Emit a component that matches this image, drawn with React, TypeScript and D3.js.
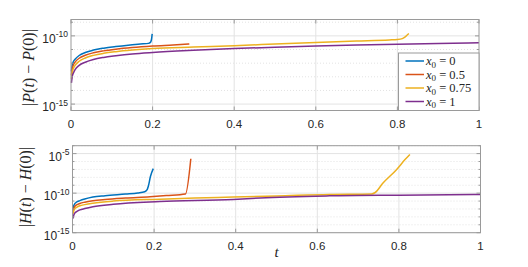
import React from 'react';
import * as d3 from 'd3';

const COLORS = ['#0072BD', '#D95319', '#EDB120', '#7E2F8E'];
const LEGEND_VALUES = ['0', '0.5', '0.75', '1'];
const X_TICKS = [0, 0.2, 0.4, 0.6, 0.8, 1];
const X_TICK_LABELS = ['0', '0.2', '0.4', '0.6', '0.8', '1'];
const P_Y_MAJOR = [-15, -10];
const H_Y_MAJOR = [-15, -10, -5];

// |P(t)-P(0)| : times and log10 values
const tP0 = [0.001, 0.003, 0.006, 0.01, 0.02, 0.035, 0.055, 0.08, 0.11, 0.14, 0.17, 0.19, 0.194, 0.197, 0.199];
const logP0 = [-12.6, -12.15, -11.88, -11.72, -11.44, -11.22, -11.04, -10.9, -10.78, -10.68, -10.6, -10.55, -10.5, -10.3, -9.85];
const tP1 = [0.001, 0.003, 0.006, 0.01, 0.02, 0.035, 0.055, 0.08, 0.11, 0.15, 0.2, 0.25, 0.29];
const logP1 = [-12.9, -12.42, -12.12, -11.92, -11.64, -11.42, -11.24, -11.1, -10.98, -10.86, -10.75, -10.67, -10.6];
const tP2 = [0.001, 0.003, 0.006, 0.01, 0.02, 0.035, 0.055, 0.08, 0.11, 0.15, 0.2, 0.3, 0.4, 0.5, 0.6, 0.7, 0.78, 0.8, 0.812, 0.82, 0.828];
const logP2 = [-13.15, -12.68, -12.38, -12.16, -11.86, -11.62, -11.43, -11.28, -11.16, -11.04, -10.93, -10.82, -10.72, -10.6, -10.48, -10.38, -10.3, -10.27, -10.2, -10.05, -9.83];
const tP3 = [0.001, 0.003, 0.006, 0.01, 0.02, 0.035, 0.055, 0.08, 0.11, 0.15, 0.2, 0.3, 0.4, 0.5, 0.6, 0.7, 0.8, 0.9, 1.0];
const logP3 = [-13.45, -12.98, -12.72, -12.48, -12.16, -11.93, -11.73, -11.58, -11.46, -11.33, -11.22, -11.06, -10.93, -10.83, -10.74, -10.67, -10.61, -10.56, -10.51];

// |H(t)-H(0)|
const tH0 = [0.001, 0.003, 0.006, 0.01, 0.018, 0.03, 0.05, 0.08, 0.13, 0.16, 0.177, 0.183, 0.186, 0.191, 0.198];
const logH0 = [-12.0, -11.6, -11.3, -11.12, -10.95, -10.75, -10.5, -10.33, -10.12, -9.98, -9.82, -9.55, -9.1, -7.9, -6.9];
const tH1 = [0.001, 0.003, 0.006, 0.01, 0.018, 0.03, 0.05, 0.08, 0.13, 0.19, 0.23, 0.277, 0.29];
const logH1 = [-12.3, -11.95, -11.65, -11.48, -11.3, -11.14, -10.96, -10.8, -10.62, -10.45, -10.3, -10.1, -5.65];
const tH2 = [0.001, 0.003, 0.006, 0.01, 0.018, 0.03, 0.05, 0.1, 0.214, 0.3, 0.394, 0.5, 0.63, 0.733, 0.741, 0.761, 0.794, 0.815, 0.827];
const logH2 = [-12.6, -12.25, -11.95, -11.8, -11.6, -11.45, -11.27, -11.0, -10.76, -10.6, -10.5, -10.36, -10.16, -10.1, -9.95, -8.73, -7.03, -5.76, -5.1];
const tH3 = [0.001, 0.003, 0.006, 0.01, 0.018, 0.03, 0.05, 0.1, 0.214, 0.394, 0.46, 0.63, 0.8, 1.0];
const logH3 = [-13.2, -12.8, -12.5, -12.35, -12.12, -11.95, -11.72, -11.4, -11.06, -10.8, -10.6, -10.34, -10.25, -10.17];

const P_SERIES = [[tP0, logP0], [tP1, logP1], [tP2, logP2], [tP3, logP3]];
const H_SERIES = [[tH0, logH0], [tH1, logH1], [tH2, logH2], [tH3, logH3]];

const TEXT = '#262626';
const AXIS = '#9a9a9a';
const GRID = '#e3e3e3';
const SANS = "'Liberation Sans', Arial, sans-serif";
const SERIF = "'Liberation Serif', 'Times New Roman', serif";

type PanelProps = {
  left: number; top: number; width: number; height: number;
  lo: number; hi: number; major: number[]; series: any[];
  ylabelName: string; ylabelX: number; ylabelY: number; xTickBaseline: number;
  legend?: boolean;
};

function Panel(p: PanelProps) {
  const x = d3.scaleLinear().domain([0, 1]).range([p.left, p.left + p.width]);
  const y = d3.scaleLog().domain([Math.pow(10, p.lo), Math.pow(10, p.hi)]).range([p.top + p.height, p.top]);
  const decades = d3.range(Math.ceil(p.lo), Math.floor(p.hi) + 1);
  const minor = decades.filter(d => !p.major.includes(d));
  const line = d3.line<[number, number]>()
    .x(d => x(d[0]))
    .y(d => y(Math.pow(10, d[1])))
    .curve(d3.curveMonotoneX);
  const x0 = p.left, x1 = p.left + p.width, y0 = p.top, y1 = p.top + p.height;
  const tl = 4;
  return (
    <g>
      <rect x={x0} y={y0} width={p.width} height={p.height} fill="#fff" />
      {minor.map(d => (
        <line key={'mg' + d} x1={x0} x2={x1} y1={y(Math.pow(10, d))} y2={y(Math.pow(10, d))} stroke={GRID} strokeDasharray="1,2" />
      ))}
      {p.major.map(d => (
        <line key={'Mg' + d} x1={x0} x2={x1} y1={y(Math.pow(10, d))} y2={y(Math.pow(10, d))} stroke={GRID} />
      ))}
      {X_TICKS.slice(1, -1).map(t => (
        <line key={'xg' + t} x1={x(t)} x2={x(t)} y1={y0} y2={y1} stroke={GRID} />
      ))}
      {p.series.map((s, i) => {
        const pts: [number, number][] = s[0].map((t: number, j: number) => [t, s[1][j]]);
        return <path key={'s' + i} d={line(pts) || ''} fill="none" stroke={COLORS[i]} strokeWidth={1.5} />;
      })}
      <rect x={x0} y={y0} width={p.width} height={p.height} fill="none" stroke={AXIS} strokeWidth={1} />
      {X_TICKS.map(t => (
        <g key={'xt' + t}>
          <line x1={x(t)} x2={x(t)} y1={y1} y2={y1 - tl} stroke={AXIS} />
          <line x1={x(t)} x2={x(t)} y1={y0} y2={y0 + tl} stroke={AXIS} />
        </g>
      ))}
      {decades.map(d => {
        const len = p.major.includes(d) ? tl : 2;
        return (
          <g key={'yt' + d}>
            <line x1={x0} x2={x0 + len} y1={y(Math.pow(10, d))} y2={y(Math.pow(10, d))} stroke={AXIS} />
            <line x1={x1} x2={x1 - len} y1={y(Math.pow(10, d))} y2={y(Math.pow(10, d))} stroke={AXIS} />
          </g>
        );
      })}
      {X_TICKS.map((t, i) => (
        <text key={'xl' + t} x={x(t)} y={p.xTickBaseline} textAnchor="middle" fontSize={11.5} fill={TEXT}
          fontFamily={SANS}>{X_TICK_LABELS[i]}</text>
      ))}
      {p.major.map(d => (
        <text key={'yl' + d} x={x0 - 3} y={y(Math.pow(10, d)) + 7} textAnchor="end" fill={TEXT}
          fontFamily={SANS} fontSize={12}>
          10<tspan fontSize={8.5} dy={-5.5}>{'-' + Math.abs(d)}</tspan>
        </text>
      ))}
      <text transform={`translate(${p.ylabelX},${p.ylabelY}) rotate(-90)`} textAnchor="middle" dominantBaseline="central"
        fontFamily={SERIF} fontSize={16} fill={TEXT}>
        |<tspan fontStyle="italic">{p.ylabelName}</tspan>(<tspan fontStyle="italic">t</tspan>) − <tspan fontStyle="italic">{p.ylabelName}</tspan>(0)|
      </text>
      {p.legend && (
        <g>
          <rect x={398.5} y={53} width={x1 - 398.5} height={y1 - 53} fill="#fff" stroke={AXIS} />
          {LEGEND_VALUES.map((v, i) => {
            const ly = 61 + i * 13.5;
            return (
              <g key={'lg' + i}>
                <line x1={405.5} x2={424} y1={ly} y2={ly} stroke={COLORS[i]} strokeWidth={1.5} />
                <text x={426} y={ly + 4} fontFamily={SERIF} fontSize={12.5} fill={TEXT}>
                  <tspan fontStyle="italic">x</tspan><tspan fontSize={9} dy={2.5}>0</tspan><tspan dy={-2.5}>{' = ' + v}</tspan>
                </text>
              </g>
            );
          })}
        </g>
      )}
    </g>
  );
}

export default function App() {
  return (
    <svg width={528} height={267} style={{ position: 'absolute', left: 0, top: 0, background: '#fff' }}>
      <rect x={0} y={0} width={528} height={267} fill="#fff" />
      <Panel left={71} top={19.5} width={408} height={91} lo={-15.47} hi={-8.8} major={P_Y_MAJOR}
        series={P_SERIES} ylabelName="P" ylabelX={28} ylabelY={67.5} xTickBaseline={127.5} legend />
      <Panel left={72.5} top={145.7} width={408} height={87} lo={-15} hi={-4} major={H_Y_MAJOR}
        series={H_SERIES} ylabelName="H" ylabelX={25} ylabelY={187} xTickBaseline={249.5} />
      <text x={276.5} y={257} textAnchor="middle" fontFamily={SERIF}
        fontStyle="italic" fontSize={15} fill={TEXT}>t</text>
    </svg>
  );
}
